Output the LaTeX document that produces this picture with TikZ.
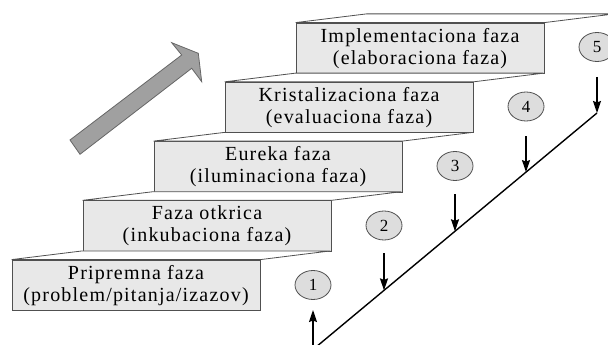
\documentclass[tikz,border=0pt]{standalone}
\usepackage{fontspec}
\setmainfont{Liberation Serif}
\newfontfamily\spacedserif[LetterSpace=6]{Liberation Serif}
\usetikzlibrary{arrows.meta,shapes.geometric}
\definecolor{boxfill}{HTML}{E8E8E8}
\definecolor{edgegray}{HTML}{505050}
\definecolor{circfill}{HTML}{DDDDDD}
\definecolor{bigarrowfill}{HTML}{A0A0A0}
\definecolor{bigarrowedge}{HTML}{666666}
\begin{document}
\begin{tikzpicture}[x=1pt,y=-1pt,
  front/.style={draw=edgegray, fill=boxfill, line width=0.8pt, minimum width=248pt, minimum height=50.5pt, inner sep=0pt, align=center, font=\spacedserif\fontsize{20}{22}\selectfont},
  topface/.style={draw=edgegray, fill=white, line width=0.8pt},
  stepnum/.style={ellipse, draw=edgegray, fill=circfill, line width=0.8pt, minimum width=36pt, minimum height=29pt, inner sep=0pt, font=\fontsize{17}{17}\selectfont},
  pointer/.style={-{Stealth[length=12pt,width=8pt,inset=1.5pt]}, line width=1.4pt, black},
  bigarrow/.style={draw=bigarrowedge, fill=bigarrowfill, line width=0.8pt, line join=miter}
]
\useasboundingbox (0,0) rectangle (608,345);

% big gray arrow
\draw[bigarrow] (70,140) -- (181.7,55) -- (171.7,42.7) -- (198.3,53.3) -- (201.7,81.7) -- (191.7,68.3) -- (80,154.3) -- cycle;

% steps
\node[front] (b0) at (136,285.25) {Pripremna faza\\(problem/pitanja/izazov)};
\node[front] (b1) at (207,226) {Faza otkrica\\(inkubaciona faza)};
\node[front] (b2) at (278,166.75) {Eureka faza\\(iluminaciona faza)};
\node[front] (b3) at (349,107.5) {Kristalizaciona faza\\(evaluaciona faza)};
\node[front] (b4) at (420,48.25) {Implementaciona faza\\(elaboraciona faza)};
\foreach \b in {b0,b1,b2,b3,b4}{
  \draw[topface] (\b.north west) -- (\b.north east) -- ++(70,-8.7) -- ++(-248,0) -- cycle;
}

% numbered circles
\node[stepnum] (c1) at (313,285) {1};
\node[stepnum] (c2) at (384,225.5) {2};
\node[stepnum] (c3) at (455,166) {3};
\node[stepnum] (c4) at (526,106.5) {4};
\node[stepnum] (c5) at (597,47) {5};

% diagonal line
\coordinate (lA) at (316,347);
\coordinate (lB) at (597,113);
\draw[line width=1.4pt] (lA) -- (lB);

% arrows
\coordinate (s1) at (313,350);
\coordinate (t1) at (313,310);
\coordinate (s2) at (384,253);
\coordinate (t2) at (384,290.4);
\coordinate (s3) at (455,194);
\coordinate (t3) at (455,231.3);
\coordinate (s4) at (526,136);
\coordinate (t4) at (526,172.1);
\coordinate (s5) at (597,77);
\draw[pointer] (s1) -- (t1);
\draw[pointer] (s2) -- (t2);
\draw[pointer] (s3) -- (t3);
\draw[pointer] (s4) -- (t4);
\draw[pointer] (s5) -- (lB);
\end{tikzpicture}
\end{document}
